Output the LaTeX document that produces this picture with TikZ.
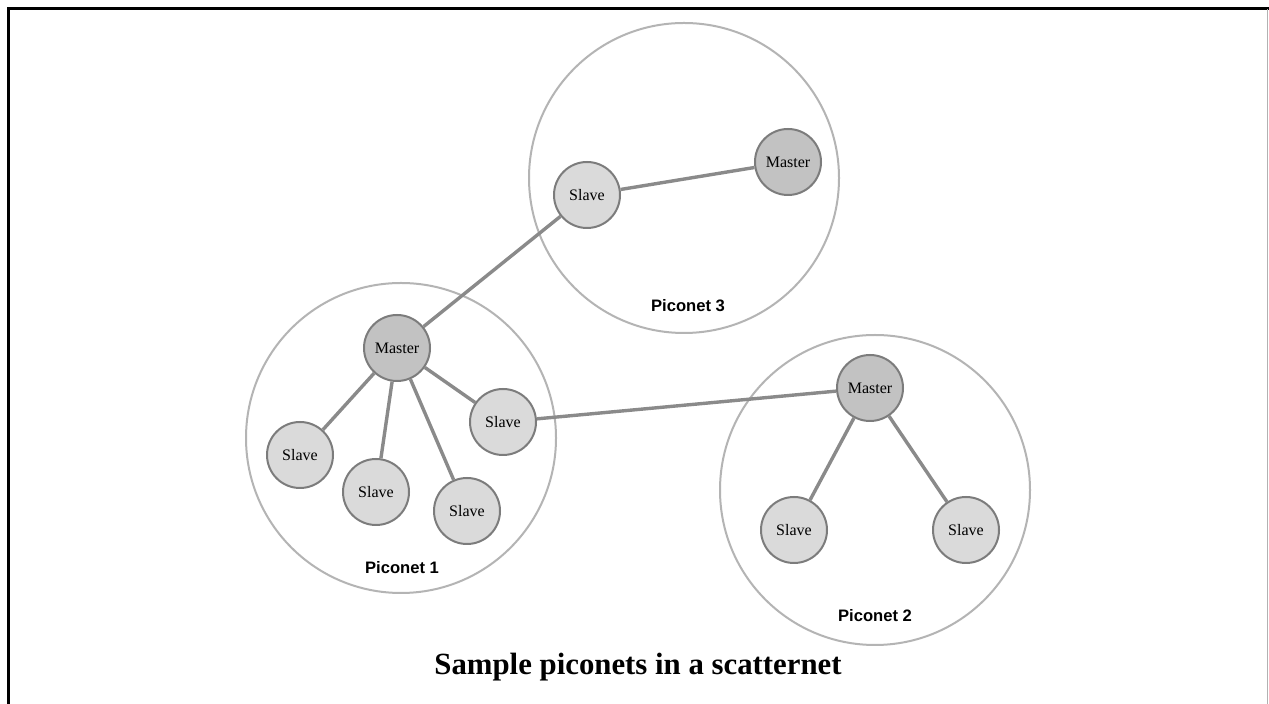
\documentclass[tikz,border=0pt]{standalone}
\usepackage{fontspec}
\setmainfont{Liberation Serif}
\newfontfamily\labelfont{Liberation Sans}
\definecolor{ringgray}{HTML}{B4B4B4}
\definecolor{edgegray}{HTML}{8A8A8A}
\definecolor{devline}{HTML}{7C7C7C}
\definecolor{slavefill}{HTML}{DADADA}
\definecolor{masterfill}{HTML}{C2C2C2}
\tikzset{
  ring/.style={circle, draw=ringgray, line width=1pt, minimum size=155pt, inner sep=0pt},
  device/.style={circle, draw=devline, line width=1pt, minimum size=33pt, inner sep=0pt,
                 font=\fontsize{8}{9}\selectfont},
  slave/.style={device, fill=slavefill},
  master/.style={device, fill=masterfill},
  link/.style={draw=edgegray, line width=1.7pt},
  netlabel/.style={font=\labelfont\bfseries\fontsize{8.3}{9}\selectfont},
}
\begin{document}
\begin{tikzpicture}[x=0.5pt, y=-0.5pt]
  \useasboundingbox (0,0) rectangle (1269,704);
  \fill[white] (0,0) rectangle (1269,704);
  % frame
  \draw[line width=1.3pt, black] (8.5,704) -- (8.5,8.5) -- (1269,8.5);
  \draw[line width=0.8pt, gray!60] (1267.5,9) -- (1267.5,704);

  % piconet outlines
  \node[ring] (p3) at (684,178) {};
  \node[ring] (p1) at (401,438) {};
  \node[ring] (p2) at (875,490) {};

  % piconet 3
  \node[slave]  (s3)  at (587,195) {Slave};
  \node[master] (m3)  at (788,162) {Master};
  % piconet 1
  \node[master] (m1)  at (397,348) {Master};
  \node[slave]  (s1a) at (300,455) {Slave};
  \node[slave]  (s1b) at (376,492) {Slave};
  \node[slave]  (s1c) at (467,511) {Slave};
  \node[slave]  (s1d) at (503,422) {Slave};
  % piconet 2
  \node[master] (m2)  at (870,388) {Master};
  \node[slave]  (s2a) at (794,530) {Slave};
  \node[slave]  (s2b) at (966,530) {Slave};

  % links
  \path[link] (s3) -- (m3);
  \path[link] (s3) -- (m1);
  \path[link] (m1) -- (s1a);
  \path[link] (m1) -- (s1b);
  \path[link] (m1) -- (s1c);
  \path[link] (m1) -- (s1d);
  \path[link] (s1d) -- (m2);
  \path[link] (m2) -- (s2a);
  \path[link] (m2) -- (s2b);

  % labels
  \node[netlabel] (l3) at (688,306) {Piconet 3};
  \node[netlabel] (l1) at (402,568) {Piconet 1};
  \node[netlabel] (l2) at (875,616) {Piconet 2};

  \node[font=\bfseries\fontsize{15.4}{18}\selectfont] (cap) at (638,667) {Sample piconets in a scatternet};
\end{tikzpicture}
\end{document}
